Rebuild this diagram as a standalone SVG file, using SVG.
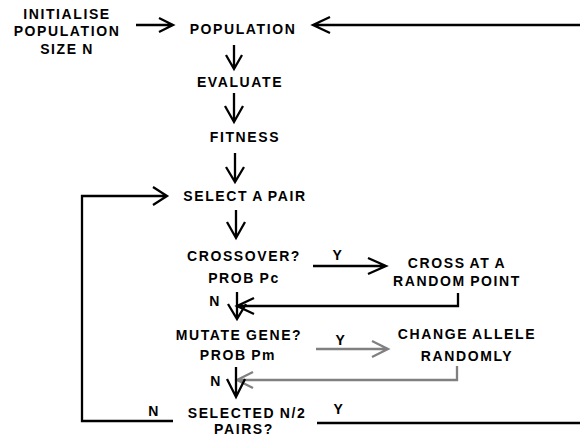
<svg xmlns="http://www.w3.org/2000/svg" width="580" height="436" viewBox="0 0 580 436">
<style>
text{font-family:"Liberation Sans",Arial,sans-serif;font-weight:bold;font-size:14px;letter-spacing:1.6px;word-spacing:-1px;text-anchor:middle;fill:#000}
.c{fill:none;stroke:#000;stroke-width:2.3;stroke-linecap:butt;stroke-linejoin:miter}
.g{stroke:#808080}
</style>
<rect width="580" height="436" fill="#fff"/>
<g id="init"><text x="67" y="18.5">INITIALISE</text><text x="67" y="36">POPULATION</text><text x="67" y="53.5">SIZE N</text></g>
<g id="population"><text x="243" y="33.5">POPULATION</text></g>
<g id="evaluate"><text x="240" y="86.5">EVALUATE</text></g>
<g id="fitness"><text x="245" y="142">FITNESS</text></g>
<g id="select"><text x="245" y="200.5">SELECT A PAIR</text></g>
<g id="crossover"><text x="244" y="261">CROSSOVER?</text><text x="244" y="282.5">PROB Pc</text></g>
<g id="crossat"><text x="457" y="268">CROSS AT A</text><text x="457" y="286">RANDOM POINT</text></g>
<g id="mutate"><text x="239" y="340">MUTATE GENE?</text><text x="238" y="359.5">PROB Pm</text></g>
<g id="change"><text x="467" y="339">CHANGE ALLELE</text><text x="467" y="360.5">RANDOMLY</text></g>
<g id="selected"><text x="247" y="417.5">SELECTED N/2</text><text x="244" y="433.5">PAIRS?</text></g>
<g id="connectors">
<path class="c" d="M136 25H173M159 18L173 25L159 32"/>
<path class="c" d="M580 25H313M330 17L313 25L330 33"/>
<path class="c" d="M234 45V69M226 55L234 69L242 55"/>
<path class="c" d="M234 93V122M225 106L234 122L243 106"/>
<path class="c" d="M235 153V182M226 167L235 182L244 167"/>
<path class="c" d="M236 210V238M227 222L236 238L245 222"/>
<path class="c" d="M313 266H386M368 258L386 266L368 274"/>
<text x="338" y="260">Y</text>
<path class="c" d="M458 293V306H237M254 298L237 306L254 314"/>
<path class="c" d="M237 292V319M228 304L237 319L246 304"/>
<text x="215" y="306">N</text>
<path class="c g" d="M316 349H388M372 341L388 349L372 357"/>
<text x="341" y="345">Y</text>
<path class="c g" d="M457 366V380H237M253 372L237 380L253 388"/>
<path class="c" d="M236 367V397M227 379L236 397L245 379"/>
<text x="216" y="386">N</text>
<path class="c" d="M173 421H82V196H167M153 187L167 196L153 205"/>
<text x="154" y="416">N</text>
<path class="c" d="M317 423H580"/>
<text x="339" y="414">Y</text>
</g>
</svg>
